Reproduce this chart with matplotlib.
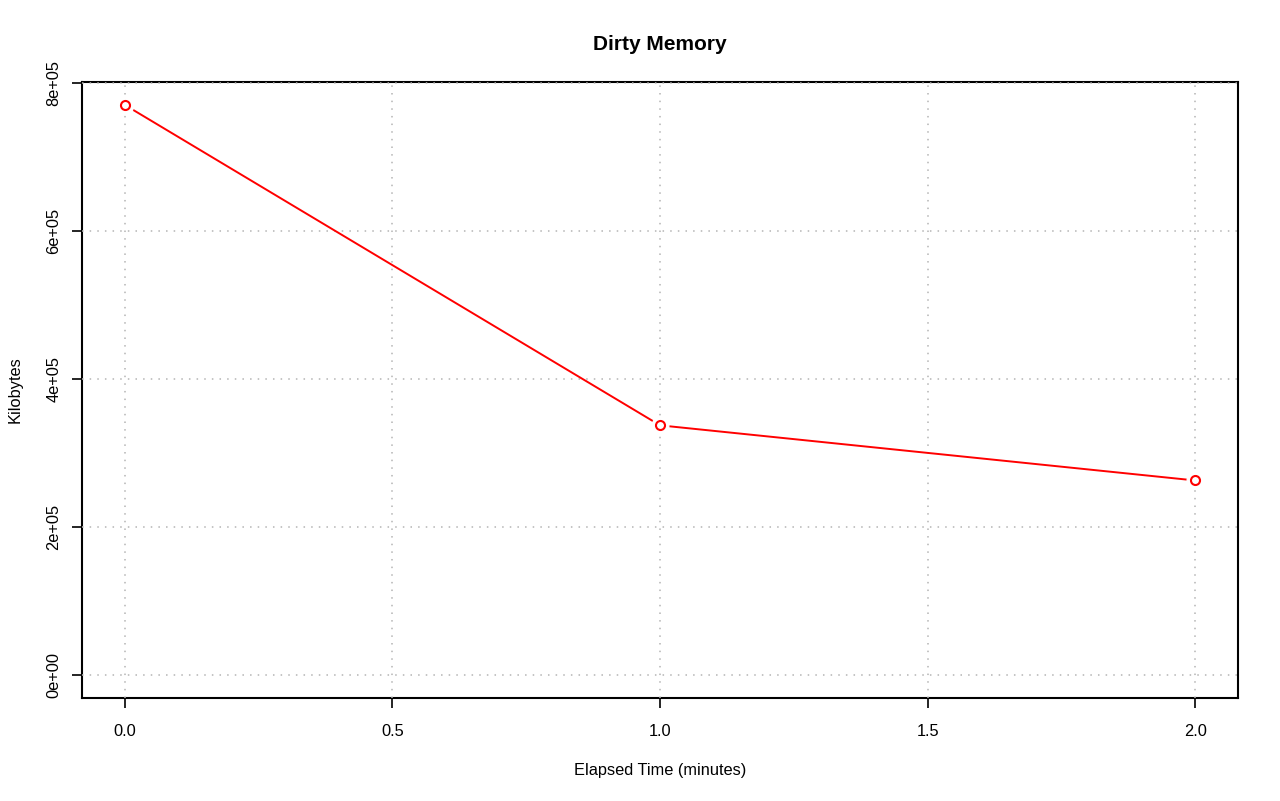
import matplotlib
matplotlib.use("Agg")
import matplotlib.pyplot as plt

plt.rcParams["font.family"] = ["Liberation Sans", "DejaVu Sans"]

# Data
minutes = [0.0, 1.0, 2.0]
kilobytes = [770000, 337000, 262500]
xticks = [0.0, 0.5, 1.0, 1.5, 2.0]
yticks = [0, 200000, 400000, 600000, 800000]
ytick_labels = ["0e+00", "2e+05", "4e+05", "6e+05", "8e+05"]

fig = plt.figure(figsize=(12.8, 8.01), dpi=100)
ax = fig.add_axes([0.0641, 0.1286, 0.9031, 0.769])

ax.set_xlim(-0.08, 2.08)
ax.set_ylim(-31500, 801000)

for x in xticks:
    ax.axvline(x, color="#b4b4b4", linestyle=(0, (1, 4)), linewidth=1.1, zorder=1)
for y in yticks:
    ax.axhline(y, color="#b4b4b4", linestyle=(0, (1, 4)), linewidth=1.1, zorder=1)

ax.plot(minutes, kilobytes, color="red", linewidth=1.4, zorder=2)
ax.plot(minutes, kilobytes, linestyle="none", marker="o", markersize=12,
        markerfacecolor="white", markeredgecolor="white", zorder=3)
ax.plot(minutes, kilobytes, linestyle="none", marker="o", markersize=6.5,
        markerfacecolor="white", markeredgecolor="red", markeredgewidth=1.5, zorder=4)

ax.set_xticks(xticks)
ax.set_xticklabels([f"{x:.1f}" for x in xticks])
ax.set_yticks(yticks)
ax.set_yticklabels(ytick_labels, rotation=90, va="center")
ax.tick_params(direction="out", length=7, width=1.2, labelsize=11.8, pad=8)
ax.tick_params(axis="x", pad=11.5)

for spine in ax.spines.values():
    spine.set_linewidth(1.5)
    spine.set_zorder(0.5)

ax.set_xlabel("Elapsed Time (minutes)", fontsize=11.8, labelpad=17.5)
ax.set_ylabel("Kilobytes", fontsize=11.8, labelpad=17)
ax.set_title("Dirty Memory", fontsize=15, fontweight="bold", pad=23)

fig.savefig("out.png", dpi=100)
